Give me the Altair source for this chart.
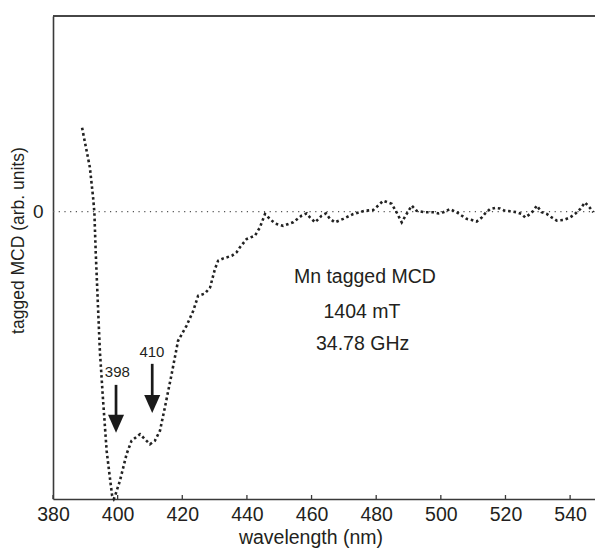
import altair as alt
import pandas as pd

# Spectrum (wavelength in nm, tagged MCD in arbitrary units; -100 = minimum)
wl = [389.0, 391.4, 392.4, 392.8, 393.2, 393.8, 394.5, 395.5, 396.6, 397.6, 398.3, 398.8, 399.2,
      400.7, 402.8, 404.3, 406.9, 408.4, 410.0, 411.5, 413.1, 414.6, 416.7, 418.7, 421.3, 423.4,
      424.9, 427.0, 428.6, 430.1, 431.1, 432.7, 435.3, 436.8, 437.8, 439.9, 442.5, 444.0, 445.6,
      447.1, 448.7, 451.2, 454.3, 456.9, 458.5, 459.5, 461.1, 463.1, 464.5, 465.7, 467.2, 469.8,
      472.9, 476.5, 479.1, 480.2, 482.2, 484.8, 486.3, 487.9, 489.4, 491.0, 492.5, 495.1, 497.7,
      499.2, 500.8, 502.8, 504.9, 506.5, 508.0, 509.6, 511.1, 512.7, 513.7, 515.2, 516.8, 518.3,
      519.9, 521.9, 523.5, 525.0, 526.1, 527.6, 528.6, 529.7, 531.2, 532.8, 534.3, 535.9, 537.9,
      540.0, 541.5, 543.1, 544.6, 546.0, 547.2]
mcd = [29.1, 15.4, 5.0, -0.2, -13.5, -29.8, -48.3, -65.6, -83.0, -92.3, -98.6, -99.7, -98.6,
       -93.4, -84.0, -79.5, -77.2, -78.9, -80.7, -79.5, -76.0, -68.0, -56.4, -44.8, -39.6, -34.4,
       -29.2, -28.4, -26.3, -19.9, -17.0, -16.2, -15.3, -14.1, -12.4, -9.5, -8.3, -5.5, -0.8,
       -2.5, -4.1, -4.9, -3.7, -1.4, -0.6, -2.0, -3.7, -1.4, -0.6, -2.5, -3.7, -2.5,
       -0.8, 0.3, 0.6, 1.7, 3.8, 2.7, -0.2, -3.7, -0.8, 2.1, 0.3, -0.2, -0.2,
       -0.6, -0.2, 0.9, -0.2, -1.4, -2.5, -2.9, -3.4, -2.0, -0.6, 0.9, 1.3, 1.1,
       0.3, 0.1, -0.2, -0.8, -2.0, -0.8, 0.3, 2.1, -0.2, -0.8, -2.0, -3.1, -2.9,
       -2.0, -0.8, 0.9, 3.2, 1.5, -0.2]

x_ticks = [380, 400, 420, 440, 460, 480, 500, 520, 540]
y_ticks = [0]

# Arrows marking peaks
arrow_labels = ["398", "410"]
arrow_x = [399.5, 410.7]
arrow_top = [-60.1, -52.8]
arrow_head = [-73.6, -66.7]
arrow_label_x = [399.9, 410.6]
arrow_label_y = [-55.7, -48.6]

# Annotation text
note_text = ["Mn tagged MCD", "1404 mT", "34.78 GHz"]
note_x = [476.5, 475.6, 475.8]
note_y = [-22.6, -34.7, -45.8]

X_DOMAIN = [380, 547.7]
Y_DOMAIN = [-99.7, 67.9]
W, H = 542, 483
FONT = "Liberation Sans"
INK = "#231f20"
AXC = "#3a3a3a"

xs = alt.Scale(domain=X_DOMAIN, nice=False, zero=False)
ys = alt.Scale(domain=Y_DOMAIN, nice=False, zero=False)
x_axis = alt.Axis(values=x_ticks, ticks=False, labelPadding=6, grid=False,
                  titleX=257.5, titleY=38, titleBaseline="middle", titleAlign="center")
y_axis = alt.Axis(values=y_ticks, ticks=False, labelPadding=10, grid=False,
                  titleX=-35, titleY=224, titleBaseline="middle", titleAlign="center", titleAngle=-90)
XT = "wavelength (nm)"
YT = "tagged MCD (arb. units)"

def X(field="x"):
    return alt.X(f"{field}:Q", scale=xs, axis=x_axis, title=XT)

def Y(field="y"):
    return alt.Y(f"{field}:Q", scale=ys, axis=y_axis, title=YT)

spec_df = pd.DataFrame({"x": wl, "y": mcd})
zero_df = pd.DataFrame({"x": [X_DOMAIN[0], X_DOMAIN[1]], "y": [0, 0]})
tick_df = pd.DataFrame({"x": x_ticks})
arrow_df = pd.DataFrame({"x": arrow_x, "y": arrow_top, "y2": arrow_head})
head_df = pd.DataFrame({"x": arrow_x, "y": arrow_head})
alab_df = pd.DataFrame({"x": arrow_label_x, "y": arrow_label_y, "t": arrow_labels})
note_df = pd.DataFrame({"x": note_x, "y": note_y, "t": note_text})

zero_line = alt.Chart(zero_df).mark_line(
    color="#555555", strokeWidth=1.2, strokeDash=[1.2, 4.5]
).encode(x=X(), y=Y())

curve = alt.Chart(spec_df).mark_line(
    color="#222222", strokeWidth=2.6, strokeDash=[2.6, 2.8], strokeCap="butt"
).encode(x=X(), y=Y())

ticks = alt.Chart(tick_df).mark_rule(color=AXC, strokeWidth=1.3).encode(
    x=X(), y=alt.value(H), y2=alt.value(H - 4)
)

top_border = alt.Chart(zero_df).mark_rule(color=AXC, strokeWidth=1.6).encode(
    x=alt.value(0), x2=alt.value(W), y=alt.value(0)
)

shafts = alt.Chart(arrow_df).mark_rule(color="#1a1a1a", strokeWidth=2.7).encode(
    x=X(), y=Y(), y2="y2:Q"
)

heads = alt.Chart(head_df).mark_point(
    shape="M -0.89 -1 L 0.89 -1 L 0 1 Z", size=324, filled=True, opacity=1,
    color="#1a1a1a", strokeWidth=0
).encode(x=X(), y=Y())

arrow_text = alt.Chart(alab_df).mark_text(
    font=FONT, fontSize=15, color=INK, align="center", baseline="middle"
).encode(x=X(), y=Y(), text="t:N")

notes = alt.Chart(note_df).mark_text(
    font=FONT, fontSize=19.5, color=INK, align="center", baseline="middle"
).encode(x=X(), y=Y(), text="t:N")

chart = alt.layer(
    zero_line, curve, ticks, top_border, shafts, heads, arrow_text, notes
).properties(
    width=W, height=H,
    padding={"left": 53, "top": 16, "right": 0, "bottom": 49},
    autosize=alt.AutoSizeParams(type="none"),
).configure_view(stroke=None).configure_axis(
    domainColor=AXC, domainWidth=1.6, labelFont=FONT, labelFontSize=19.5,
    labelColor=INK, titleFont=FONT, titleFontSize=19.5, titleColor=INK,
    titleFontWeight="normal", labelFlush=False, labelOverlap=False
).configure_axisY(titleFontSize=17.5, labelFontSize=19)

chart.save("out.html", embed_options={"renderer": "svg", "actions": False})
